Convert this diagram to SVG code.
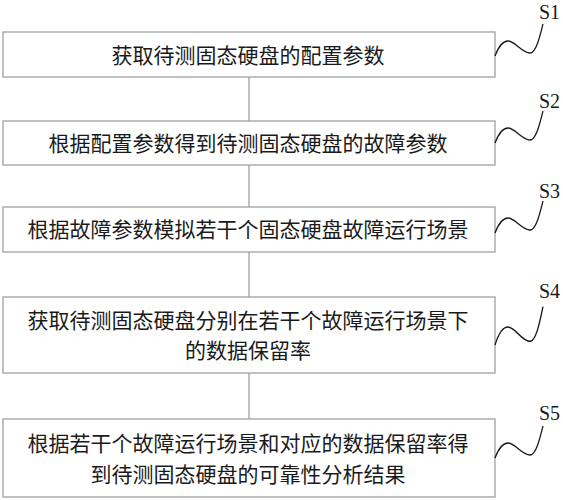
<svg xmlns="http://www.w3.org/2000/svg" width="563" height="500" viewBox="0 0 563 500">
<style>
.box{fill:#fff;stroke:#a0a0a0;stroke-width:1.3}
.t{font-family:"Noto Sans CJK SC","Noto Sans CJK JP",sans-serif;font-size:21px;fill:#1a1a1a;text-anchor:middle}
.lbl{font-family:"Liberation Serif",serif;font-size:20px;fill:#1a1a1a}
.conn{stroke:#a0a0a0;stroke-width:1.3;fill:none}
.sq{stroke:#1a1a1a;stroke-width:1.3;fill:none}
</style>
<defs>
<path id="squig" d="M0,0 C3,-8 7,-15 13,-15 C20,-15 27,-3 35,-3 C41,-3 45,-20 48,-32"/>
</defs>
<rect width="563" height="500" fill="#fff"/>
<g id="connectors">
<line class="conn" x1="249" y1="77" x2="249" y2="121"/>
<line class="conn" x1="249" y1="165" x2="249" y2="207"/>
<line class="conn" x1="249" y1="252" x2="249" y2="297"/>
<line class="conn" x1="249" y1="373" x2="249" y2="419"/>
</g>
<g id="S1">
<rect class="box" x="3" y="32" width="492" height="45"/>
<text class="t" x="248" y="63">获取待测固态硬盘的配置参数</text>
<use href="#squig" class="sq" transform="translate(495,56)"/>
<text class="lbl" x="539" y="19">S1</text>
</g>
<g id="S2">
<rect class="box" x="3" y="121" width="492" height="44"/>
<text class="t" x="248" y="151">根据配置参数得到待测固态硬盘的故障参数</text>
<use href="#squig" class="sq" transform="translate(495,143)"/>
<text class="lbl" x="539" y="108">S2</text>
</g>
<g id="S3">
<rect class="box" x="3" y="207" width="492" height="45"/>
<text class="t" x="248" y="237">根据故障参数模拟若干个固态硬盘故障运行场景</text>
<use href="#squig" class="sq" transform="translate(495,233)"/>
<text class="lbl" x="539" y="198">S3</text>
</g>
<g id="S4">
<rect class="box" x="3" y="297" width="492" height="76"/>
<text class="t" x="248" y="328">获取待测固态硬盘分别在若干个故障运行场景下</text>
<text class="t" x="248" y="358">的数据保留率</text>
<use href="#squig" class="sq" transform="translate(495,345) scale(1,1.2)"/>
<text class="lbl" x="539" y="298">S4</text>
</g>
<g id="S5">
<rect class="box" x="3" y="419" width="492" height="78"/>
<text class="t" x="248" y="451">根据若干个故障运行场景和对应的数据保留率得</text>
<text class="t" x="248" y="482">到待测固态硬盘的可靠性分析结果</text>
<use href="#squig" class="sq" transform="translate(495,458)"/>
<text class="lbl" x="539" y="420">S5</text>
</g>
</svg>
